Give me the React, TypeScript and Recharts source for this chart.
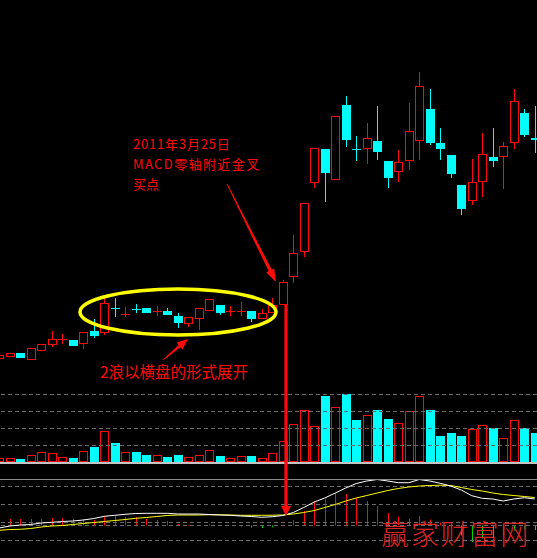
import { ComposedChart, Bar, Line, XAxis, YAxis, ReferenceLine } from 'recharts';

// daily bars, Feb 16 - May 3 2011
const days = [
  '02-16', '02-17', '02-18', '02-21', '02-22', '02-23', '02-24', '02-25', '02-28', '03-01',
  '03-02', '03-03', '03-04', '03-07', '03-08', '03-09', '03-10', '03-11', '03-14', '03-15',
  '03-16', '03-17', '03-18', '03-21', '03-22', '03-23', '03-24', '03-25', '03-28', '03-29',
  '03-30', '03-31', '04-01', '04-06', '04-07', '04-08', '04-11', '04-12', '04-13', '04-14',
  '04-15', '04-18', '04-19', '04-20', '04-21', '04-22', '04-25', '04-26', '04-27', '04-28',
  '04-29', '05-03',
];

const opens = [
  8.03, 8.08, 8.18, 8.0, 8.23, 8.38, 8.53, 8.5, 8.4, 8.73,
  8.68, 9.31, 9.15, 9.29, 9.3, 9.23, 9.23, 9.1, 8.9, 9.03,
  9.23, 9.38, 9.23, 9.23, 9.23, 9.03, 9.18, 9.38, 10.08, 10.7,
  12.43, 13.28, 12.5, 14.38, 13.29, 13.28, 13.48, 12.98, 12.7, 12.98,
  13.48, 14.28, 13.43, 13.13, 12.38, 11.98, 12.45, 13.08, 13.08, 13.43,
  14.18, 13.55,
];
const highs = [
  8.13, 8.18, 8.18, 8.3, 8.4, 8.73, 8.65, 8.5, 8.7, 9.03,
  9.63, 9.55, 9.33, 9.4, 9.3, 9.35, 9.3, 9.18, 9.08, 9.3,
  9.53, 9.38, 9.35, 9.45, 9.23, 9.28, 9.55, 10.0, 11.13, 11.93,
  13.3, 13.28, 14.1, 14.6, 13.6, 13.93, 14.35, 12.98, 13.25, 14.43,
  15.2, 14.78, 13.8, 13.13, 12.38, 13.03, 13.68, 13.8, 13.45, 14.78,
  14.28, 14.35,
];
const lows = [
  8.03, 8.08, 8.05, 8.0, 8.23, 8.33, 8.4, 8.35, 8.28, 8.55,
  8.63, 9.08, 9.08, 9.18, 9.18, 9.1, 9.13, 8.8, 8.83, 8.75,
  9.23, 9.13, 9.1, 9.1, 8.95, 9.03, 9.18, 9.38, 9.93, 10.58,
  12.3, 11.95, 12.5, 13.33, 12.98, 12.9, 13.0, 12.3, 12.45, 12.75,
  13.0, 13.38, 13.0, 12.55, 11.63, 11.88, 12.08, 12.83, 12.28, 13.28,
  13.58, 13.18,
];
const closes = [
  8.13, 8.18, 8.05, 8.3, 8.4, 8.53, 8.53, 8.35, 8.7, 8.6,
  9.43, 9.3, 9.15, 9.28, 9.18, 9.23, 9.13, 8.93, 9.08, 9.3,
  9.53, 9.18, 9.23, 9.23, 9.03, 9.18, 9.38, 9.95, 10.68, 11.93,
  13.3, 12.68, 14.1, 13.5, 13.28, 13.55, 13.2, 12.55, 12.95, 13.73,
  14.85, 13.43, 13.28, 12.65, 11.78, 12.45, 13.15, 12.98, 13.35, 14.48,
  13.63, 13.5,
];

// volume in 10k lots
const volumes = [
  2.4, 2.4, 1.8, 4.1, 5.9, 5.3, 2.9, 2.4, 6.5, 8.8,
  18.2, 11.2, 5.9, 5.9, 4.1, 4.1, 2.9, 4.1, 2.9, 4.1,
  7.1, 3.5, 2.4, 3.5, 3.5, 2.4, 5.3, 12.4, 22.4, 30.6,
  21.2, 38.8, 32.4, 40.0, 24.7, 27.6, 30.6, 25.3, 22.9, 30.0,
  38.8, 30.6, 15.3, 17.1, 15.3, 19.4, 21.8, 20.0, 14.1, 24.7,
  20.0, 17.1,
];

const dif = [
  -0.025, -0.005, 0.005, 0.01, 0.025, 0.032, 0.04, 0.045, 0.055, 0.07,
  0.092, 0.102, 0.112, 0.12, 0.122, 0.122, 0.122, 0.115, 0.115, 0.115,
  0.11, 0.105, 0.102, 0.095, 0.09, 0.082, 0.088, 0.1, 0.13, 0.18,
  0.235, 0.275, 0.325, 0.375, 0.42, 0.445, 0.46, 0.445, 0.428, 0.428,
  0.46, 0.445, 0.422, 0.395, 0.355, 0.298, 0.272, 0.265, 0.245, 0.265,
  0.278, 0.265,
];
const dea = [
  -0.048, -0.04, -0.038, -0.03, -0.015, -0.005, 0.0, 0.01, 0.02, 0.03,
  0.04, 0.05, 0.06, 0.072, 0.08, 0.09, 0.1, 0.105, 0.105, 0.105,
  0.108, 0.107, 0.105, 0.102, 0.102, 0.102, 0.103, 0.105, 0.115, 0.13,
  0.15, 0.18, 0.21, 0.245, 0.275, 0.3, 0.325, 0.35, 0.37, 0.385,
  0.395, 0.4, 0.403, 0.4, 0.38, 0.36, 0.345, 0.325, 0.31, 0.3,
  0.29, 0.28,
];
const macd = [
  0.05, 0.065, 0.065, 0.065, 0.065, 0.075, 0.075, 0.065, 0.065, 0.055,
  0.095, 0.095, 0.085, 0.085, 0.065, 0.055, 0.045, 0.015, 0.005, 0.005,
  0.015, 0.005, -0.003, -0.01, -0.02, -0.025, -0.018, 0.007, 0.055, 0.145,
  0.245, 0.265, 0.325, 0.315, 0.275, 0.245, 0.195, 0.125, 0.09, 0.07,
  0.095, 0.06, 0.03, -0.02, -0.1, -0.165, -0.13, -0.13, -0.11, -0.05,
  -0.04, -0.045,
];

const volumeGrid = [10, 20, 30, 40];
const macdGrid = [0.39, 0.21, 0.03, 0, -0.15];

const RED = '#ff0a0a';
const CYAN = '#00ffff';
const GREEN = '#00d800';
const GRID = '#6a6a6a';
const CJK = "'Noto Sans CJK SC', 'Noto Sans', sans-serif";

const rows = days.map((day, i) => ({
  day,
  open: opens[i],
  high: highs[i],
  low: lows[i],
  close: closes[i],
  range: [lows[i], highs[i]],
  vol: volumes[i],
  dif: dif[i],
  dea: dea[i],
  macd: macd[i],
}));

const CHART_LEFT = -6;
const CHART_WIDTH = 546;
const BODY = 9;

function Candle(props: any) {
  const { x, y, width, height, payload } = props;
  const { open, close, high, low } = payload;
  const top = Math.min(y, y + height);
  const h = Math.abs(height);
  const toY = (v: number) => top + ((high - v) / (high - low)) * h;
  const left = Math.round(x + width / 2 - BODY / 2);
  const wx = left + 4.5;
  const up = close >= open;
  const color = up ? RED : CYAN;
  const hiY = Math.round(toY(high));
  const loY = Math.round(toY(low));

  if (Math.abs(close - open) < 0.02) {
    const cy = Math.round(toY(close)) + 0.5;
    return (
      <g>
        <line x1={wx} x2={wx} y1={hiY} y2={loY} stroke={color} />
        <line x1={left} x2={left + BODY} y1={cy} y2={cy} stroke={color} />
      </g>
    );
  }

  const bTop = Math.round(toY(Math.max(open, close)));
  const bBot = Math.round(toY(Math.min(open, close)));
  return (
    <g>
      {hiY < bTop && <line x1={wx} x2={wx} y1={hiY} y2={bTop} stroke={color} />}
      {loY > bBot && <line x1={wx} x2={wx} y1={bBot} y2={loY} stroke={color} />}
      {up ? (
        <rect x={left + 0.5} y={bTop + 0.5} width={BODY - 1} height={Math.max(bBot - bTop - 1, 1)} fill="#000" stroke={color} />
      ) : (
        <rect x={left} y={bTop} width={BODY} height={Math.max(bBot - bTop, 1)} fill={color} />
      )}
    </g>
  );
}

function VolumeBar(props: any) {
  const { x, y, width, height, payload } = props;
  const left = Math.round(x + width / 2 - BODY / 2);
  const t = Math.round(y);
  const b = Math.round(y + height);
  if (payload.close >= payload.open) {
    return <rect x={left + 0.5} y={t + 0.5} width={BODY - 1} height={Math.max(b - t - 1, 1)} fill="#000" stroke={RED} />;
  }
  return <rect x={left} y={t} width={BODY} height={Math.max(b - t, 1)} fill={CYAN} />;
}

function MacdBar(props: any) {
  const { x, y, width, height, payload } = props;
  const cx = Math.floor(x + width / 2) + 0.5;
  return (
    <line
      x1={cx}
      x2={cx}
      y1={y}
      y2={y + height}
      stroke={payload.macd >= 0 ? RED : GREEN}
      strokeWidth={1}
    />
  );
}

// tapered arrow polygon from (x1,y1) to the tip at (x2,y2)
function arrow(x1: number, y1: number, x2: number, y2: number, tail: number, neck: number, headW: number, headL: number) {
  const len = Math.hypot(x2 - x1, y2 - y1);
  const ux = (x2 - x1) / len;
  const uy = (y2 - y1) / len;
  const px = -uy;
  const py = ux;
  const bx = x2 - ux * headL;
  const by = y2 - uy * headL;
  const pts = [
    [x1 + px * tail, y1 + py * tail],
    [bx + px * neck, by + py * neck],
    [bx + px * headW, by + py * headW],
    [x2, y2],
    [bx - px * headW, by - py * headW],
    [bx - px * neck, by - py * neck],
    [x1 - px * tail, y1 - py * tail],
  ];
  return pts.map((p) => `${p[0].toFixed(1)},${p[1].toFixed(1)}`).join(' ');
}

const panel = (top: number, height: number) => ({
  position: 'absolute' as const,
  left: CHART_LEFT,
  top,
  width: CHART_WIDTH,
  height,
});

export default function App() {
  const margin = { top: 0, right: 0, bottom: 0, left: 0 };
  return (
    <div style={{ position: 'fixed', left: 0, top: 0, width: 537, height: 558, background: '#000', overflow: 'hidden' }}>
      {/* price */}
      <div style={panel(0, 380)}>
        <ComposedChart width={CHART_WIDTH} height={380} data={rows} margin={margin} barCategoryGap={0} barGap={0}>
          <XAxis dataKey="day" hide />
          <YAxis hide domain={[7.5, 17]} allowDataOverflow />
          <Bar dataKey="range" isAnimationActive={false} shape={(p: any) => <Candle {...p} />} />
        </ComposedChart>
      </div>

      {/* volume */}
      <div style={panel(377, 85)}>
        <ComposedChart width={CHART_WIDTH} height={85} data={rows} margin={margin} barCategoryGap={0} barGap={0}>
          <XAxis dataKey="day" hide />
          <YAxis hide domain={[0, 50]} allowDataOverflow />
          {volumeGrid.map((v) => (
            <ReferenceLine key={v} y={v} stroke={GRID} strokeDasharray="4 3" shapeRendering="crispEdges" />
          ))}
          <Bar dataKey="vol" isAnimationActive={false} shape={(p: any) => <VolumeBar {...p} />} />
        </ComposedChart>
      </div>
      <div style={{ position: 'absolute', left: 0, top: 462, width: 537, height: 2, background: '#c4c4c4' }} />

      {/* MACD */}
      <div style={panel(475, 90)}>
        <ComposedChart width={CHART_WIDTH} height={90} data={rows} margin={margin} barCategoryGap={0} barGap={0}>
          <XAxis dataKey="day" hide />
          <YAxis hide domain={[-0.395, 0.505]} allowDataOverflow />
          {macdGrid.map((v) => (
            <ReferenceLine key={v} y={v} stroke={GRID} strokeDasharray="4 3" shapeRendering="crispEdges" />
          ))}
          <Bar dataKey="macd" isAnimationActive={false} shape={(p: any) => <MacdBar {...p} />} />
          <Line type="linear" dataKey="dea" stroke="#ffff00" strokeWidth={1} dot={false} isAnimationActive={false} />
          <Line type="linear" dataKey="dif" stroke="#ffffff" strokeWidth={1} dot={false} isAnimationActive={false} />
        </ComposedChart>
      </div>
      <div style={{ position: 'absolute', left: 0, top: 479, width: 537, height: 1, background: '#8a8a8a' }} />

      {/* notes */}
      <svg width={537} height={558} style={{ position: 'absolute', left: 0, top: 0, pointerEvents: 'none' }}>
        <ellipse cx={178} cy={312} rx={98} ry={23} fill="none" stroke="#ffff00" strokeWidth={3.5} />
        <polygon points={arrow(227, 184, 276, 282, 0.4, 1.7, 4.5, 13)} fill={RED} />
        <polygon points={arrow(163, 360, 188, 339, 0.4, 1.5, 4.5, 11)} fill={RED} />
        <polygon points={arrow(286, 305, 286, 516, 1.6, 1.6, 5, 10)} fill={RED} />
        <g fontFamily={CJK} fontSize={13} fill={RED}>
          <text x={133} y={149} letterSpacing={0.8}>2011年3月25日</text>
          <text x={133} y={169} letterSpacing={1.4}>MACD零轴附近金叉</text>
          <text x={133} y={189}>买点</text>
        </g>
        <text x={100} y={378} fontFamily={CJK} fontSize={15.5} fill={RED}>
          2浪以横盘的形式展开
        </text>
        <text x={381} y={545} fontFamily={CJK} fontSize={28} fontWeight={300} fill="#f02828" letterSpacing={1.8} opacity={0.92}>
          赢家财富网
        </text>
      </svg>
    </div>
  );
}
